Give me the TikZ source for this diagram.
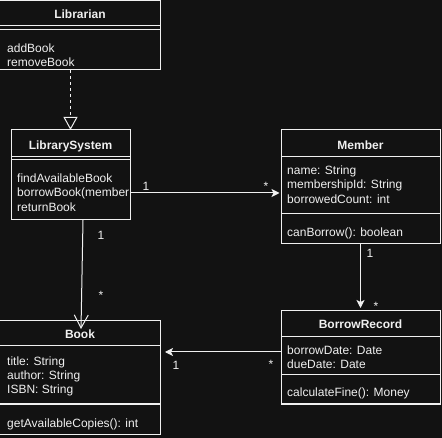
\documentclass[tikz,border=0pt]{standalone}
\usepackage{fontspec}
\setmainfont{Liberation Sans}
\usetikzlibrary{arrows.meta}
\definecolor{bg}{HTML}{121212}
\definecolor{fg}{HTML}{F0F0F0}
\begin{document}
\begin{tikzpicture}[x=1pt,y=-1pt,
  umlbox/.style={draw=fg, line width=1pt, anchor=north west, inner sep=0, outer sep=0},
  sepline/.style={draw=fg, line width=1pt},
  txt/.style={anchor=base west, inner sep=0, text=fg, font=\fontsize{12}{14}\selectfont},
  hdr/.style={anchor=base, inner sep=0, text=fg, font=\fontsize{12}{14}\selectfont\bfseries},
  lbl/.style={anchor=base, inner sep=0, text=fg, font=\fontsize{12}{14}\selectfont},
  conn/.style={draw=fg, line width=1pt},
  filledtip/.style={-{Stealth[length=8pt,width=8pt,inset=2pt]}},
  vtip/.style={-{Straight Barb[length=13pt,width=14pt,line width=1pt]}},
  tritip/.style={-{Triangle[open,length=13pt,width=14pt,line width=1pt]}}
]
\fill[bg] (0,0) rectangle (442,438);
\useasboundingbox (0,0) rectangle (442,438);

% ---- Librarian
\node[umlbox, minimum width=161pt, minimum height=69pt] (libr) at (-1,1) {};
\draw[sepline] ([yshift=-25pt]libr.north west) -- ([yshift=-25pt]libr.north east);
\draw[sepline] ([yshift=-29pt]libr.north west) -- ([yshift=-29pt]libr.north east);
\node[hdr] (librT) at (80,19) {Librarian};
\node[txt] (librA) at (7,53) {addBook};
\node[txt] (librB) at (7,67) {removeBook};

% ---- LibrarySystem
\node[umlbox, minimum width=119pt, minimum height=90pt] (sys) at (11,130) {};
\draw[sepline] ([yshift=-27pt]sys.north west) -- ([yshift=-27pt]sys.north east);
\draw[sepline] ([yshift=-30pt]sys.north west) -- ([yshift=-30pt]sys.north east);
\node[hdr] (sysT) at (70.5,150) {LibrarySystem};
\begin{scope}
\clip (sys.north west) rectangle ([xshift=-0.5pt]sys.south east);
\node[txt] (sysA) at (17,182.5) {findAvailableBook};
\node[txt] (sysB) at (17,197) {borrowBook(member};
\node[txt] (sysC) at (17,211.5) {returnBook};
\end{scope}

% ---- Member
\node[umlbox, minimum width=159pt, minimum height=114pt] (mem) at (281,130) {};
\draw[sepline] ([yshift=-27pt]mem.north west) -- ([yshift=-27pt]mem.north east);
\draw[sepline] ([yshift=-84pt]mem.north west) -- ([yshift=-84pt]mem.north east);
\node[hdr] (memT) at (360.5,150) {Member};
\node[txt] (memA) at (287,174.5) {name: String};
\node[txt] (memB) at (287,189) {membershipId: String};
\node[txt] (memC) at (287,203.5) {borrowedCount: int};
\node[txt] (memD) at (287,236.5) {canBorrow(): boolean};

% ---- Book
\node[umlbox, minimum width=161pt, minimum height=113pt] (book) at (-1,321) {};
\draw[sepline] ([yshift=-25pt]book.north west) -- ([yshift=-25pt]book.north east);
\draw[sepline] ([yshift=-83pt]book.north west) -- ([yshift=-83pt]book.north east);
\node[hdr] (bookT) at (80,338.5) {Book};
\node[txt] (bookA) at (7,365.5) {title: String};
\node[txt] (bookB) at (7,380) {author: String};
\node[txt] (bookC) at (7,394) {ISBN: String};
\node[txt] (bookD) at (7,427) {getAvailableCopies(): int};

% ---- BorrowRecord
\node[umlbox, minimum width=159pt, minimum height=93pt] (rec) at (281,311) {};
\draw[sepline] ([yshift=-26pt]rec.north west) -- ([yshift=-26pt]rec.north east);
\draw[sepline] ([yshift=-64pt]rec.north west) -- ([yshift=-64pt]rec.north east);
\node[hdr] (recT) at (360.5,329) {BorrowRecord};
\node[txt] (recA) at (287,354.5) {borrowDate: Date};
\node[txt] (recB) at (287,369) {dueDate: Date};
\node[txt] (recC) at (287,396.5) {calculateFine(): Money};

% ---- connectors
\draw[conn, tritip, dash pattern=on 3pt off 3pt] (sys.north |- libr.south) -- (sys.north);

\coordinate (sysR) at ([yshift=-18pt]sys.east);
\draw[conn, filledtip, shorten >=1.5pt] (sysR) -- (sysR -| mem.west);
\node[lbl] (l1a) at (146,190.5) {1};
\node[lbl] (l1b) at (266,191) {*};

\coordinate (sysB0) at ([xshift=12.5pt]sys.south);
\coordinate (bookTop) at ([xshift=1.5pt,yshift=-8pt]book.north);
\draw[conn, vtip] (sysB0) -- (bookTop);
\node[lbl] (l2a) at (101,239.5) {1};
\node[lbl] (l2b) at (101,300) {*};

\draw[conn, filledtip, shorten >=3pt] (mem.south) -- (rec.north);
\node[lbl] (l3a) at (370,257.5) {1};
\node[lbl] (l3b) at (376,310.5) {*};

\coordinate (recL) at ([yshift=5.5pt]rec.west);
\draw[conn, filledtip, shorten >=5pt] (recL) -- (recL -| book.east);
\node[lbl] (l4a) at (176,369.5) {1};
\node[lbl] (l4b) at (271,368.5) {*};
\end{tikzpicture}
\end{document}
